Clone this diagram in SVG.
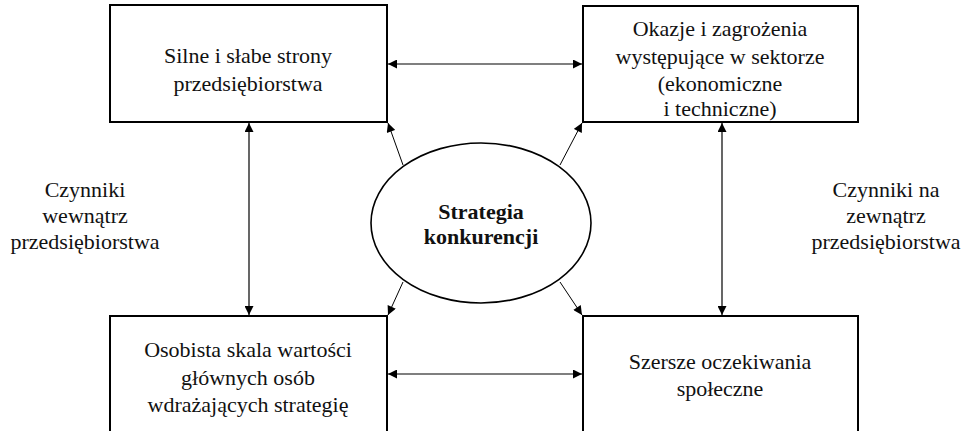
<svg xmlns="http://www.w3.org/2000/svg" width="969" height="431" viewBox="0 0 969 431">
<style>
.box{fill:#fff;stroke:#000;stroke-width:2}
.ell{fill:#fff;stroke:#000;stroke-width:1.6}
text{font-family:'Liberation Serif','Times New Roman',serif;font-size:22px;fill:#111;text-anchor:middle}
.b{font-weight:bold}
.c{stroke:#000;stroke-width:1.2;fill:none;marker-start:url(#ah);marker-end:url(#ah)}
.d{stroke:#000;stroke-width:1;fill:none;marker-end:url(#ah)}
</style>
<defs>
<marker id="ah" viewBox="0 0 10 10" refX="10" refY="5" markerWidth="12" markerHeight="9" markerUnits="userSpaceOnUse" orient="auto-start-reverse">
<path d="M0,0L10,5L0,10z" fill="#000"/>
</marker>
</defs>
<rect width="969" height="431" fill="#fff"/>
<g id="connectors">
<line class="c" x1="388" y1="64" x2="582" y2="64"/>
<line class="c" x1="388" y1="374" x2="582" y2="374"/>
<line class="c" x1="249" y1="123" x2="249" y2="315"/>
<line class="c" x1="722" y1="123" x2="722" y2="315"/>
<line class="d" x1="403" y1="165" x2="388" y2="123"/>
<line class="d" x1="560" y1="165" x2="582" y2="123"/>
<line class="d" x1="403" y1="282" x2="388" y2="315"/>
<line class="d" x1="560" y1="282" x2="582" y2="315"/>
</g>
<g id="n-silne">
<rect class="box" x="110" y="5" width="277" height="117"/>
<text x="248" y="63">Silne i słabe strony</text>
<text x="248" y="91">przedsiębiorstwa</text>
</g>
<g id="n-okazje">
<rect class="box" x="583" y="6" width="275" height="116"/>
<text x="720" y="36">Okazje i zagrożenia</text>
<text x="720" y="64">występujące w sektorze</text>
<text x="720" y="91">(ekonomiczne</text>
<text x="720" y="116"> i techniczne)</text>
</g>
<g id="n-osobista">
<rect class="box" x="110" y="316" width="277" height="130"/>
<text x="248" y="357">Osobista skala wartości</text>
<text x="248" y="385">głównych osób</text>
<text x="248" y="412">wdrażających strategię</text>
</g>
<g id="n-szersze">
<rect class="box" x="583" y="316" width="275" height="130"/>
<text x="720" y="369">Szersze oczekiwania</text>
<text x="720" y="396">społeczne</text>
</g>
<g id="n-strategia">
<ellipse class="ell" cx="481" cy="223" rx="110" ry="80"/>
<text class="b" x="481" y="219">Strategia</text>
<text class="b" x="481" y="244">konkurencji</text>
</g>
<g id="n-wewnatrz">
<text x="85" y="197">Czynniki</text>
<text x="85" y="223">wewnątrz</text>
<text x="85" y="249">przedsiębiorstwa</text>
</g>
<g id="n-zewnatrz">
<text x="886" y="197">Czynniki na</text>
<text x="886" y="223">zewnątrz</text>
<text x="886" y="249">przedsiębiorstwa</text>
</g>
</svg>
